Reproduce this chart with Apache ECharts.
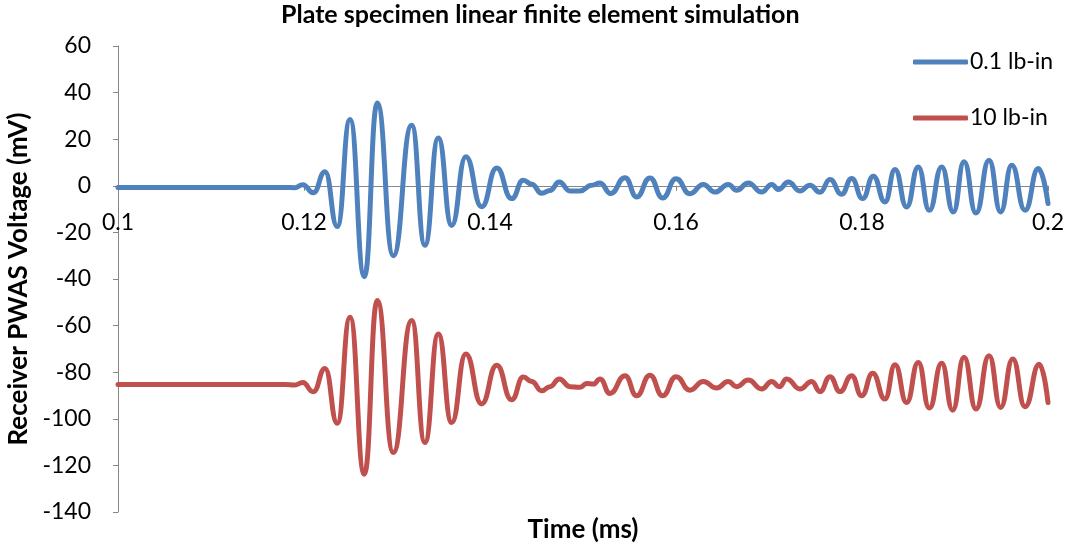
<!DOCTYPE html>
<html>
<head>
<meta charset="utf-8">
<script src="https://cdn.jsdelivr.net/npm/echarts@6/dist/echarts.min.js"></script>
<style>
html,body{margin:0;padding:0;background:#fff;}
#chart{width:1069px;height:548px;}
</style>
</head>
<body>
<div id="chart"></div>
<script>
// Time (ms) and voltage (mV) at local extrema
var timeBlue = [0.1, 0.118, 0.1190, 0.11986, 0.1210, 0.12226, 0.12358, 0.12495, 0.12649, 0.12788, 0.1296, 0.13158, 0.1330, 0.13444, 0.13588, 0.1374, 0.1391, 0.14072, 0.14233, 0.14358, 0.14448, 0.14556, 0.14645, 0.14745, 0.1486, 0.14968, 0.15093, 0.15183, 0.15298, 0.15452, 0.15577, 0.1572, 0.15857, 0.16, 0.1615, 0.16293, 0.16419, 0.16562, 0.16652, 0.16777, 0.16921, 0.17029, 0.171, 0.17208, 0.17333, 0.1744, 0.17548, 0.17656, 0.17781, 0.17889, 0.18007, 0.18122, 0.18247, 0.18355, 0.1848, 0.18605, 0.18724, 0.18857, 0.18982, 0.19097, 0.19226, 0.19366, 0.19491, 0.1961, 0.19753, 0.19896, 0.2];
var voltBlue = [-0.7, -0.7, -0.8, 0.5, -3.0, 6.0, -17.5, 28.5, -39, 35.5, -30, 26, -25.5, 20.5, -17, 12.5, -9, 7.6, -5.5, 2.4, 0.7, -3.2, -2.0, 1.6, -2.2, -2.2, 0.2, 1.2, -3.3, 3.5, -4.8, 3.4, -5.2, 3.0, -3.4, 0.6, -2.7, 0.6, -1.9, 1.2, -2.7, 0.6, -1.6, 1.6, -2.2, 0.2, -2.8, 2.7, -3.6, 3.1, -5.5, 4.1, -6.9, 7.0, -9.1, 8.1, -10.5, 8.1, -11.2, 10.3, -11.7, 11.0, -11.2, 8.8, -10.5, 7.4, -7.6];
var timeRed = [0.1, 0.118, 0.1190, 0.11986, 0.1210, 0.12226, 0.12358, 0.12495, 0.12649, 0.12788, 0.1296, 0.13158, 0.1330, 0.13444, 0.13588, 0.1374, 0.1391, 0.14072, 0.14233, 0.14358, 0.14448, 0.14556, 0.14645, 0.14745, 0.1486, 0.14968, 0.1504, 0.15111, 0.15183, 0.1529, 0.15452, 0.15577, 0.1572, 0.15857, 0.16, 0.1615, 0.16293, 0.16437, 0.16562, 0.16652, 0.16777, 0.16921, 0.17029, 0.17111, 0.1719, 0.17333, 0.17459, 0.17548, 0.17656, 0.17763, 0.17889, 0.17996, 0.18115, 0.18247, 0.18355, 0.1848, 0.18605, 0.18724, 0.18857, 0.18975, 0.19097, 0.19226, 0.19366, 0.19491, 0.19621, 0.19753, 0.19907, 0.2];
var voltRed = [-85.3, -85.3, -85.5, -84.4, -88.4, -78.4, -101.9, -56.4, -123.8, -49.2, -114.5, -57.8, -110.2, -63.6, -101.6, -72.2, -93.6, -77.0, -91.8, -82.1, -84.0, -88.0, -86.2, -82.9, -86.2, -86.5, -84.8, -85.1, -82.9, -89.1, -81.5, -90.1, -81.3, -90.1, -81.9, -87.7, -84.0, -86.8, -84.0, -86.2, -83.4, -87.2, -84.0, -86.2, -82.9, -87.2, -84.0, -88.3, -81.9, -88.3, -81.5, -90.1, -80.5, -91.5, -76.8, -93.0, -75.8, -95.4, -76.2, -96.3, -73.6, -95.8, -72.9, -95.1, -74.3, -94.8, -76.6, -93.0];
var seriesNames = ['0.1 lb-in', '10 lb-in'];
var chartTitle = 'Plate specimen linear finite element simulation';
var xTitle = 'Time (ms)';
var yTitle = 'Receiver PWAS Voltage (mV)';

function pairs(t, v) { return t.map(function (x, i) { return [x, v[i]]; }); }

var FONT = 'Lato';
var GRID_TOP = 46, GRID_BOTTOM = 36, H = 548;
var Y_MIN = -140, Y_MAX = 60;
// distance from the bottom of the plot to the y = 0 line, so the x axis crosses at zero
var plotH = H - GRID_TOP - GRID_BOTTOM;
var zeroOffset = plotH * (0 - Y_MIN) / (Y_MAX - Y_MIN);

var chart = echarts.init(document.getElementById('chart'), null, {renderer: 'canvas'});
chart.setOption({
  animation: false,
  backgroundColor: '#ffffff',
  title: {
    text: chartTitle,
    left: 281, top: 2, padding: 0,
    textStyle: {fontFamily: FONT, fontSize: 25, fontWeight: 'bold', color: '#000'}
  },
  grid: {left: 118, right: 21, top: GRID_TOP, bottom: GRID_BOTTOM, containLabel: false, outerBoundsMode: 'none'},
  legend: {
    orient: 'vertical',
    left: 913, top: 49, padding: 0,
    itemWidth: 55, itemHeight: 5, itemGap: 30,
    icon: 'roundRect',
    textStyle: {fontFamily: FONT, fontSize: 23, color: '#000', lineHeight: 26, padding: [0, 0, 0, -3]},
    data: seriesNames
  },
  xAxis: {
    type: 'value', min: 0.1, max: 0.2, interval: 0.02,
    position: 'bottom', offset: -zeroOffset,
    name: xTitle, nameLocation: 'middle', nameGap: 331,
    nameTextStyle: {fontFamily: FONT, fontSize: 26, fontWeight: 'bold', color: '#000'},
    axisLine: {onZero: false, lineStyle: {color: '#868686', width: 1}},
    axisTick: {show: true, length: 5, lineStyle: {color: '#868686'}},
    axisLabel: {fontFamily: FONT, fontSize: 23, color: '#000', margin: 25},
    splitLine: {show: false}
  },
  yAxis: {
    type: 'value', min: Y_MIN, max: Y_MAX, interval: 20,
    name: yTitle, nameLocation: 'middle', nameGap: 84,
    nameTextStyle: {fontFamily: FONT, fontSize: 26, fontWeight: 'bold', color: '#000'},
    axisLine: {show: true, onZero: false, lineStyle: {color: '#868686', width: 1}},
    axisTick: {show: true, length: 5, lineStyle: {color: '#868686'}},
    axisLabel: {fontFamily: FONT, fontSize: 23, color: '#000', margin: 27},
    splitLine: {show: false}
  },
  series: [
    {
      name: seriesNames[0], type: 'line', data: pairs(timeBlue, voltBlue),
      showSymbol: false, symbol: 'none', smooth: 0.5, smoothMonotone: 'x',
      lineStyle: {color: '#4F81BD', width: 5, cap: 'round', join: 'round'},
      itemStyle: {color: '#4F81BD'}
    },
    {
      name: seriesNames[1], type: 'line', data: pairs(timeRed, voltRed),
      showSymbol: false, symbol: 'none', smooth: 0.5, smoothMonotone: 'x',
      lineStyle: {color: '#C0504D', width: 5, cap: 'round', join: 'round'},
      itemStyle: {color: '#C0504D'}
    }
  ]
});
</script>
</body>
</html>
